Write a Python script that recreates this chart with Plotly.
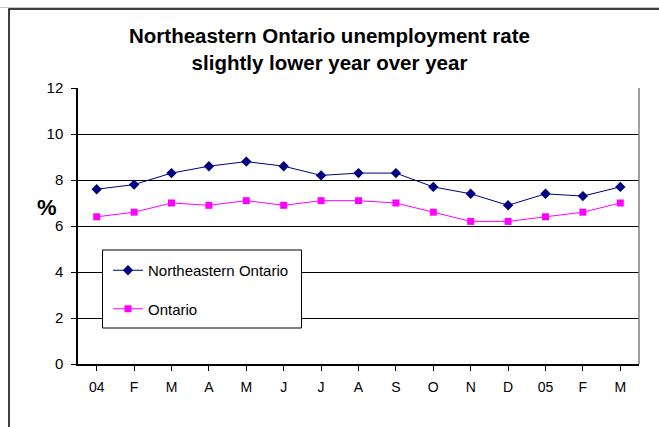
import plotly.graph_objects as go

months = ["04", "F", "M", "A", "M", "J", "J", "A", "S", "O", "N", "D", "05", "F", "M"]
northeastern = [7.6, 7.8, 8.3, 8.6, 8.8, 8.6, 8.2, 8.3, 8.3, 7.7, 7.4, 6.9, 7.4, 7.3, 7.7]
ontario = [6.4, 6.6, 7.0, 6.9, 7.1, 6.9, 7.1, 7.1, 7.0, 6.6, 6.2, 6.2, 6.4, 6.6, 7.0]
y_ticks = [0, 2, 4, 6, 8, 10, 12]

x = list(range(len(months)))
FONT = "Arial, Liberation Sans, sans-serif"

fig = go.Figure()
fig.add_trace(go.Scatter(
    x=x, y=northeastern, name="Northeastern Ontario", mode="lines+markers",
    line=dict(color="#000080", width=1),
    marker=dict(symbol="diamond", size=8, color="#000080"),
    legendgroup="a",
))
fig.add_trace(go.Scatter(
    x=x, y=ontario, name="Ontario", mode="lines+markers",
    line=dict(color="#FF00FF", width=1),
    marker=dict(symbol="square", size=7, color="#FF00FF"),
    legendgroup="b",
))

L, R, T, B = 78, 639, 88, 364
W, H = 659, 427

def px(v):
    return (v - L) / (R - L)

def py(v):
    return (B - v) / (B - T)

shapes = [
    dict(type="rect", xref="paper", yref="paper", x0=px(9), x1=px(670), y0=py(9), y1=py(440),
         line=dict(color="black", width=1.5), fillcolor="rgba(0,0,0,0)", layer="below"),
    dict(type="line", xref="paper", yref="paper", x0=px(0), x1=px(670), y0=py(7.5), y1=py(7.5),
         line=dict(color="#c8c8c8", width=1), layer="below"),
    dict(type="line", xref="paper", yref="paper", x0=1, x1=1, y0=0, y1=1,
         line=dict(color="#808080", width=1.5), layer="above"),
    dict(type="rect", xref="paper", yref="paper", x0=px(102.5), x1=px(301.5), y0=py(250), y1=py(328),
         line=dict(color="black", width=1), fillcolor="white", layer="above"),
]

fig.update_layout(
    width=W, height=H,
    margin=dict(l=L, r=W - R, t=T, b=H - B, pad=0),
    paper_bgcolor="white", plot_bgcolor="white",
    font=dict(family=FONT, size=14, color="black"),
    showlegend=True,
    legend=dict(
        x=px(108), y=py(254), xanchor="left", yanchor="top",
        bgcolor="rgba(0,0,0,0)", borderwidth=0,
        tracegroupgap=16, font=dict(family=FONT, size=15, color="black"),
    ),
    xaxis=dict(
        tickmode="array", tickvals=x, ticktext=months,
        range=[-0.5, len(months) - 0.5],
        showgrid=False, zeroline=False,
        showline=True, linecolor="black", linewidth=1.5,
        ticks="outside", tickson="boundaries", ticklen=5, tickcolor="black",
        tickfont=dict(family=FONT, size=14), ticklabelstandoff=4,
    ),
    yaxis=dict(
        tickmode="array", tickvals=y_ticks, ticktext=[str(v) for v in y_ticks],
        range=[0, 12],
        showgrid=True, gridcolor="black", gridwidth=1,
        zeroline=False,
        showline=True, linecolor="black", linewidth=1.5,
        ticks="outside", ticklen=5, tickcolor="black",
        tickfont=dict(family=FONT, size=15), ticklabelstandoff=5,
    ),
    shapes=shapes,
    annotations=[
        dict(text="<b>Northeastern Ontario unemployment rate<br>slightly lower year over year</b>",
             xref="paper", yref="paper", x=px(329.5), y=py(49.5), xanchor="center", yanchor="middle",
             showarrow=False, font=dict(family=FONT, size=20.5, color="black")),
        dict(text="<b>%</b>", xref="paper", yref="paper", x=px(35), y=py(207),
             showarrow=False, font=dict(family=FONT, size=22, color="black")),
    ],
)

fig.write_html("out.html")
